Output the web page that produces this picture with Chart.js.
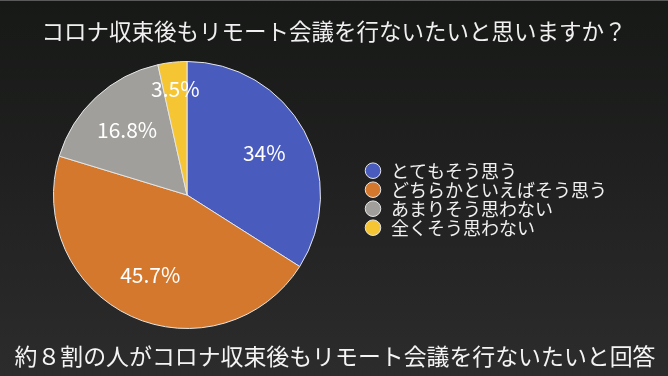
<!DOCTYPE html>
<html>
<head>
<meta charset="utf-8">
<script src="https://cdn.jsdelivr.net/npm/chart.js@4"></script>
<style>
  html, body { margin: 0; padding: 0; }
  body {
    width: 668px; height: 376px; overflow: hidden;
    background: linear-gradient(#171917, #1f201f 45%, #2c2c2c);
    border-top: 1px solid #5a5a5a;
    box-sizing: border-box;
  }
  canvas { display: block; }
</style>
</head>
<body>
<canvas id="pie" width="668" height="375"></canvas>
<script>
// 回答の割合 (%)
const answers = ['とてもそう思う', 'どちらかといえばそう思う', 'あまりそう思わない', '全くそう思わない'];
const shares = [34, 45.7, 16.8, 3.5];
const sliceColors = ['#4a5bbe', '#d4782e', '#a09f9c', '#f5c533'];
const titleText = 'コロナ収束後もリモート会議を行ないたいと思いますか？';
const footText = '約８割の人がコロナ収束後もリモート会議を行ないたいと回答';

const JP_FONT = '"Noto Sans CJK JP", "Noto Sans", sans-serif';

// write the % values inside each slice
const sliceLabels = {
  id: 'sliceLabels',
  afterDatasetsDraw(chart) {
    const ctx = chart.ctx;
    const meta = chart.getDatasetMeta(0);
    ctx.save();
    ctx.fillStyle = '#ffffff';
    ctx.font = '21px ' + JP_FONT;
    ctx.textAlign = 'center';
    ctx.textBaseline = 'middle';
    meta.data.forEach((arc, i) => {
      const v = chart.data.datasets[0].data[i];
      const mid = (arc.startAngle + arc.endAngle) / 2;
      const r = arc.outerRadius * (v < 5 ? 0.8 : 0.66);
      ctx.fillText(v + '%', arc.x + Math.cos(mid) * r, arc.y + Math.sin(mid) * r);
    });
    ctx.restore();
  }
};

// title and footer centred on the whole slide, not on the padded area
const slideTexts = {
  id: 'slideTexts',
  afterDraw(chart) {
    const ctx = chart.ctx;
    const mid = chart.width / 2;
    ctx.save();
    ctx.textAlign = 'center';
    ctx.textBaseline = 'middle';
    ctx.fillStyle = '#f0f0f0';
    ctx.font = '22.5px ' + JP_FONT;
    ctx.fillText(titleText, mid, 30);
    ctx.fillStyle = '#f4f4f4';
    ctx.font = '22.9px ' + JP_FONT;
    ctx.fillText(footText, mid + 1, 355);
    ctx.restore();
  }
};

const ctx = document.getElementById('pie').getContext('2d');
const pieChart = new Chart(ctx, {
  type: 'pie',
  data: {
    labels: answers,
    datasets: [{
      data: shares,
      backgroundColor: sliceColors,
      borderColor: '#e6e6e6',
      borderWidth: 1,
    }],
  },
  options: {
    responsive: false,
    animation: false,
    layout: {
      padding: { left: 11, right: 51, top: 60, bottom: 47 },
    },
    plugins: {
      legend: {
        position: 'right',
        title: { display: true, text: '', font: { size: 7 }, padding: 0 },
        labels: {
          usePointStyle: true,
          pointStyle: 'circle',
          boxHeight: 11,
          padding: 1,
          color: '#f0f0f0',
          font: { family: JP_FONT, size: 18 },
        },
      },
      tooltip: { enabled: false },
    },
  },
  plugins: [sliceLabels, slideTexts],
});
</script>
</body>
</html>
